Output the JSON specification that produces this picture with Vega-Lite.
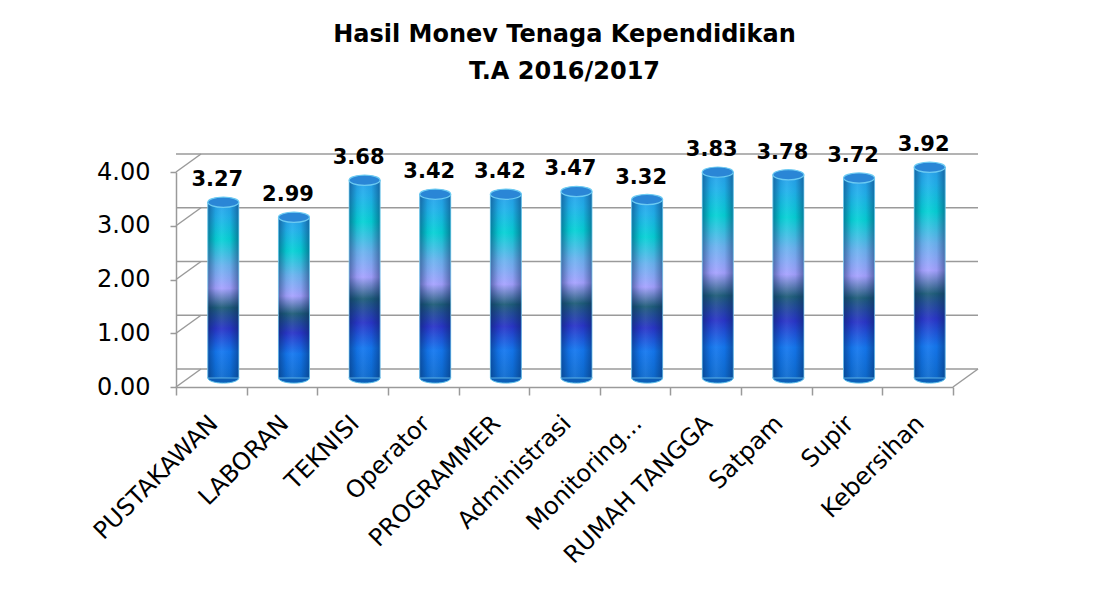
{
  "$schema": "https://vega.github.io/schema/vega-lite/v6.json",
  "autosize": {"type": "none"},
  "width": 777,
  "height": 215,
  "padding": {"left": 176, "top": 172, "right": 141, "bottom": 216},
  "background": "white",
  "title": {
    "text": ["Hasil Monev Tenaga Kependidikan", "T.A 2016/2017"],
    "font": "DejaVu Sans",
    "fontSize": 24,
    "fontWeight": "bold",
    "color": "black",
    "lineHeight": 37,
    "anchor": "middle",
    "frame": "group",
    "offset": 50
  },
  "config": {
    "view": {"stroke": null},
    "font": "DejaVu Sans"
  },
  "datasets": {
    "scores": [
      {"kategori": "PUSTAKAWAN", "nilai": 3.27},
      {"kategori": "LABORAN", "nilai": 2.99},
      {"kategori": "TEKNISI", "nilai": 3.68},
      {"kategori": "Operator", "nilai": 3.42},
      {"kategori": "PROGRAMMER", "nilai": 3.42},
      {"kategori": "Administrasi", "nilai": 3.47},
      {"kategori": "Monitoring...", "nilai": 3.32},
      {"kategori": "RUMAH TANGGA", "nilai": 3.83},
      {"kategori": "Satpam", "nilai": 3.78},
      {"kategori": "Supir", "nilai": 3.72},
      {"kategori": "Kebersihan", "nilai": 3.92}
    ],
    "grid": [
      {"kategori": "PUSTAKAWAN", "nilai": 0},
      {"kategori": "PUSTAKAWAN", "nilai": 1},
      {"kategori": "PUSTAKAWAN", "nilai": 2},
      {"kategori": "PUSTAKAWAN", "nilai": 3},
      {"kategori": "PUSTAKAWAN", "nilai": 4}
    ],
    "floor": [
      {"kategori": "Kebersihan", "nilai": 0}
    ]
  },
  "layer": [
    {
      "data": {"name": "scores"},
      "mark": {
        "type": "bar",
        "width": {"band": 0.44},
        "xOffset": 12,
        "yOffset": -9,
        "fill": {
          "gradient": "linear",
          "x1": 0, "y1": 1, "x2": 0, "y2": 0,
          "stops": [
            {"offset": 0, "color": "#0e6cd0"},
            {"offset": 0.15, "color": "#1478f0"},
            {"offset": 0.28, "color": "#2a35c8"},
            {"offset": 0.4, "color": "#1e5c78"},
            {"offset": 0.51, "color": "#a6a2ff"},
            {"offset": 0.64, "color": "#6cb4f0"},
            {"offset": 0.79, "color": "#06d2d6"},
            {"offset": 0.92, "color": "#22b2ec"},
            {"offset": 1, "color": "#28a0ec"}
          ]
        }
      },
      "encoding": {
        "x": {
          "field": "kategori", "type": "nominal", "sort": null,
          "scale": {
            "domain": ["PUSTAKAWAN", "LABORAN", "TEKNISI", "Operator", "PROGRAMMER", "Administrasi", "Monitoring...", "RUMAH TANGGA", "Satpam", "Supir", "Kebersihan"],
            "paddingInner": 0, "paddingOuter": 0
          },
          "axis": {
            "title": null,
            "tickBand": "extent",
            "tickSize": 8,
            "tickColor": "#9a9a9a",
            "tickWidth": 1.5,
            "domainColor": "#9a9a9a",
            "domainWidth": 1.5,
            "labelAngle": -45,
            "labelFont": "DejaVu Sans",
            "labelFontSize": 24,
            "labelColor": "black",
            "labelPadding": 16,
            "labelOffset": -6,
            "labelLimit": 300
          }
        },
        "y": {
          "field": "nilai", "type": "quantitative",
          "scale": {"domain": [0, 4], "nice": false},
          "axis": {
            "title": null,
            "grid": false,
            "values": [0, 1, 2, 3, 4],
            "format": ".2f",
            "tickSize": 6,
            "tickColor": "#9a9a9a",
            "tickWidth": 1.5,
            "domainColor": "#9a9a9a",
            "domainWidth": 1.5,
            "labelFont": "DejaVu Sans",
            "labelFontSize": 24,
            "labelColor": "black",
            "labelPadding": 20
          }
        }
      }
    },
    {
      "data": {"name": "grid"},
      "mark": {"type": "rule", "color": "#9a9a9a", "strokeWidth": 1.5, "xOffset": 25, "yOffset": -18},
      "encoding": {
        "y": {"field": "nilai", "type": "quantitative", "title": null}
      }
    },
    {
      "data": {"name": "grid"},
      "mark": {"type": "rule", "color": "#9a9a9a", "strokeWidth": 1.5, "x2Offset": 25, "y2Offset": -18},
      "encoding": {
        "x": {"field": "kategori", "type": "nominal", "bandPosition": 0, "sort": null, "title": null},
        "x2": {"field": "kategori", "bandPosition": 0},
        "y": {"field": "nilai", "type": "quantitative", "title": null},
        "y2": {"field": "nilai"}
      }
    },
    {
      "data": {"name": "floor"},
      "mark": {"type": "rule", "color": "#9a9a9a", "strokeWidth": 1.5, "x2Offset": 25, "y2Offset": -18},
      "encoding": {
        "x": {"field": "kategori", "type": "nominal", "bandPosition": 1, "sort": null, "title": null},
        "x2": {"field": "kategori", "bandPosition": 1},
        "y": {"field": "nilai", "type": "quantitative", "title": null},
        "y2": {"field": "nilai"}
      }
    },
    {
      "data": {"name": "scores"},
      "mark": {
        "type": "point",
        "shape": "M-1,0A1,0.33,0,1,0,1,0A1,0.33,0,1,0,-1,0Z",
        "size": 961,
        "filled": true,
        "fill": "#0c5fb8",
        "stroke": "#5fc0ea",
        "strokeWidth": 1,
        "opacity": 1,
        "xOffset": 12,
        "yOffset": -9
      },
      "encoding": {
        "x": {"field": "kategori", "type": "nominal", "sort": null, "title": null},
        "y": {"datum": 0, "type": "quantitative", "title": null}
      }
    },
    {
      "data": {"name": "scores"},
      "mark": {
        "type": "bar",
        "width": {"band": 0.44},
        "xOffset": 12,
        "yOffset": -9,
        "fill": {
          "gradient": "linear",
          "x1": 0, "y1": 1, "x2": 0, "y2": 0,
          "stops": [
            {"offset": 0, "color": "#0e6cd0"},
            {"offset": 0.15, "color": "#1478f0"},
            {"offset": 0.28, "color": "#2a35c8"},
            {"offset": 0.4, "color": "#1e5c78"},
            {"offset": 0.51, "color": "#a6a2ff"},
            {"offset": 0.64, "color": "#6cb4f0"},
            {"offset": 0.79, "color": "#06d2d6"},
            {"offset": 0.92, "color": "#22b2ec"},
            {"offset": 1, "color": "#28a0ec"}
          ]
        }
      },
      "encoding": {
        "x": {"field": "kategori", "type": "nominal", "sort": null, "title": null},
        "y": {"field": "nilai", "type": "quantitative", "title": null}
      }
    },
    {
      "data": {"name": "scores"},
      "mark": {
        "type": "bar",
        "width": {"band": 0.44},
        "xOffset": 12,
        "yOffset": -9,
        "stroke": "#7fd0f2",
        "strokeWidth": 1,
        "strokeOpacity": 0.7,
        "fill": {
          "gradient": "linear",
          "x1": 0, "y1": 0, "x2": 1, "y2": 0,
          "stops": [
            {"offset": 0, "color": "rgba(0,30,80,0.45)"},
            {"offset": 0.25, "color": "rgba(0,30,80,0.08)"},
            {"offset": 0.45, "color": "rgba(255,255,255,0.06)"},
            {"offset": 0.72, "color": "rgba(0,30,80,0.06)"},
            {"offset": 1, "color": "rgba(0,30,80,0.45)"}
          ]
        }
      },
      "encoding": {
        "x": {"field": "kategori", "type": "nominal", "sort": null, "title": null},
        "y": {"field": "nilai", "type": "quantitative", "title": null}
      }
    },
    {
      "data": {"name": "scores"},
      "mark": {
        "type": "point",
        "shape": "M-1,0A1,0.33,0,1,0,1,0A1,0.33,0,1,0,-1,0Z",
        "size": 961,
        "filled": true,
        "fill": "#2a86d6",
        "stroke": "#6ccbf2",
        "strokeWidth": 1.2,
        "opacity": 1,
        "xOffset": 12,
        "yOffset": -9
      },
      "encoding": {
        "x": {"field": "kategori", "type": "nominal", "sort": null, "title": null},
        "y": {"field": "nilai", "type": "quantitative", "title": null}
      }
    },
    {
      "data": {"name": "scores"},
      "mark": {
        "type": "text",
        "font": "DejaVu Sans",
        "fontSize": 21,
        "fontWeight": "bold",
        "color": "black",
        "baseline": "alphabetic",
        "align": "center",
        "xOffset": 6,
        "yOffset": -25
      },
      "encoding": {
        "x": {"field": "kategori", "type": "nominal", "sort": null, "title": null},
        "y": {"field": "nilai", "type": "quantitative", "title": null},
        "text": {"field": "nilai", "type": "quantitative", "format": ".2f"}
      }
    }
  ]
}
